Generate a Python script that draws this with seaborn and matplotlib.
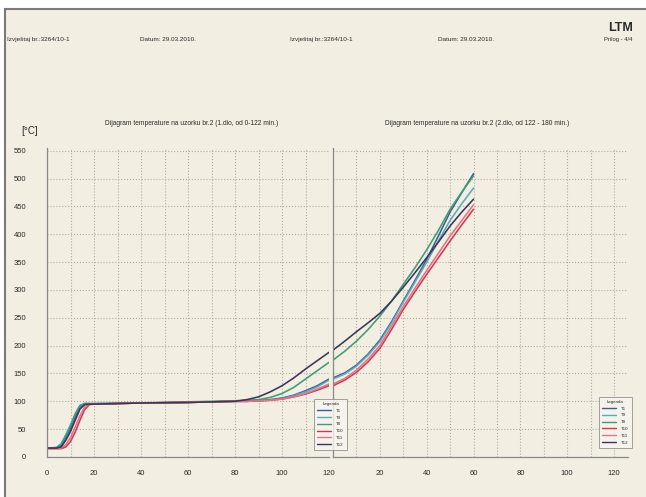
import numpy as np
import pandas as pd
import matplotlib
matplotlib.use("Agg")
import matplotlib.pyplot as plt
from matplotlib.patches import Rectangle
from matplotlib.lines import Line2D
from matplotlib.ticker import MultipleLocator, FixedFormatter, FixedLocator
import seaborn as sns

# sensors / legend entries
sensors = ['T1', 'T9', 'T8', 'T10', 'T11', 'T12']
colors = ['#3d5f8f', '#5aaac0', '#3e9c7a', '#d8364e', '#e5738a', '#3b3558']

# part 1: 0 - 122 min
t_left = [0, 4, 6, 8, 10, 12, 14, 16, 18, 20, 40, 60, 80, 85, 90, 95, 100, 105, 110, 115, 120]
T1_left = [16, 16, 20, 35, 52, 72, 90, 95, 95, 95, 97, 98, 100, 100, 101, 103, 106, 111, 119, 128, 140]
T9_left = [16, 17, 24, 40, 58, 78, 93, 96, 96, 96, 97, 98, 100, 100, 101, 102, 105, 110, 117, 126, 138]
T8_left = [16, 17, 22, 38, 56, 76, 92, 96, 96, 96, 97, 99, 101, 102, 103, 107, 114, 125, 140, 155, 170]
T10_left = [15, 15, 15, 18, 28, 45, 66, 85, 94, 95, 97, 98, 100, 100, 101, 102, 104, 108, 113, 120, 128]
T11_left = [15, 15, 16, 22, 35, 54, 74, 90, 95, 95, 97, 98, 100, 100, 101, 102, 104, 108, 114, 122, 131]
T12_left = [16, 16, 18, 30, 46, 66, 86, 94, 95, 95, 97, 98, 100, 103, 108, 117, 128, 142, 158, 173, 188]

# part 2: 122 - 180 min
t_right = [0, 5, 10, 15, 20, 25, 30, 35, 40, 45, 50, 55, 60]
T1_right = [142, 151, 165, 185, 210, 243, 280, 317, 355, 397, 440, 475, 509]
T9_right = [140, 149, 163, 183, 207, 241, 278, 314, 350, 388, 425, 455, 483]
T8_right = [174, 190, 208, 229, 253, 280, 310, 340, 372, 407, 445, 476, 505]
T10_right = [128, 138, 152, 171, 195, 229, 265, 297, 328, 358, 388, 417, 445]
T11_right = [131, 141, 156, 176, 200, 235, 270, 303, 335, 366, 397, 425, 453]
T12_right = [192, 208, 225, 241, 258, 280, 305, 331, 358, 386, 415, 440, 463]

right_ticklabels = ['', '20', '40', '60', '80', '100', '120']


def to_long(t, series):
    rows = []
    for name, vals in zip(sensors, series):
        for ti, v in zip(t, vals):
            rows.append((name, ti, v))
    return pd.DataFrame(rows, columns=['sensor', 't', 'temp'])


df_left = to_long(t_left, [T1_left, T9_left, T8_left, T10_left, T11_left, T12_left])
df_right = to_long(t_right, [T1_right, T9_right, T8_right, T10_right, T11_right, T12_right])

sns.set_style("white")
plt.rcParams['font.family'] = ['Liberation Sans', 'DejaVu Sans']

cream = '#f2eee1'
ink = '#2a2a2a'
gridc = '#b0aca2'

fig = plt.figure(figsize=(6.46, 4.97), dpi=100)
fig.patch.set_facecolor('white')
fig.patches.append(Rectangle((0.008, -0.01), 1.0, 0.992, transform=fig.transFigure,
                             facecolor=cream, edgecolor='#7a7a7a', lw=1.5, zorder=-5))

ax1 = fig.add_axes([0.0728, 0.0805, 0.4365, 0.6217])
ax2 = fig.add_axes([0.5155, 0.0805, 0.4567, 0.6217])
ax2.set_zorder(1)
ax1.set_zorder(3)

pal = dict(zip(sensors, colors))
sns.lineplot(data=df_left, x='t', y='temp', hue='sensor', palette=pal, ax=ax1,
             linewidth=1.15, legend=False)
sns.lineplot(data=df_right, x='t', y='temp', hue='sensor', palette=pal, ax=ax2,
             linewidth=1.15, legend=False)

ax1.set_xlim(0, 120)
ax2.set_xlim(0, 126)

for ax in (ax1, ax2):
    ax.set_ylim(0, 555)
    ax.patch.set_alpha(0)
    ax.set_xlabel('')
    ax.set_ylabel('')
    ax.xaxis.set_major_locator(MultipleLocator(20))
    ax.xaxis.set_minor_locator(MultipleLocator(10))
    ax.yaxis.set_major_locator(MultipleLocator(50))
    ax.yaxis.set_minor_locator(MultipleLocator(25))
    ax.grid(which='both', axis='x', linestyle=':', color=gridc, lw=0.8)
    ax.grid(which='major', axis='y', linestyle=':', color=gridc, lw=0.8)
    for s in ('top', 'right'):
        ax.spines[s].set_visible(False)
    for s in ('left', 'bottom'):
        ax.spines[s].set_color('#8a8a8a')
        ax.spines[s].set_linewidth(0.9)
    ax.tick_params(axis='x', which='major', direction='inout', length=7, width=0.7,
                   color='#8a8a8a', labelsize=5.5, labelcolor=ink, pad=6)
    ax.tick_params(axis='x', which='minor', direction='inout', length=4, width=0.6,
                   color='#8a8a8a')
    ax.tick_params(axis='y', which='major', direction='out', length=9, width=0.7,
                   color='#8a8a8a', labelsize=5.5, labelcolor=ink, pad=6)
    ax.tick_params(axis='y', which='minor', direction='out', length=4, width=0.6,
                   color='#8a8a8a')

ax2.xaxis.set_major_locator(FixedLocator([0, 20, 40, 60, 80, 100, 120]))
ax2.xaxis.set_major_formatter(FixedFormatter(right_ticklabels))
ax2.tick_params(axis='y', which='both', left=False, labelleft=False)

handles = [Line2D([0], [0], color=c, lw=1.0) for c in colors]
for ax, anchor in ((ax1, (0.94, 0.016)), (ax2, (0.895, 0.023))):
    leg = ax.legend(handles, sensors, title='Legenda', loc='lower left',
                    bbox_to_anchor=anchor, fontsize=3.2, title_fontsize=3.2,
                    frameon=True, fancybox=False, handlelength=3.0,
                    labelspacing=0.6, borderpad=0.7, handletextpad=1.2)
    leg.get_frame().set_edgecolor('#8a8a8a')
    leg.get_frame().set_facecolor('#f7f5ee')
    leg.get_frame().set_linewidth(0.7)
    leg.set_zorder(10)

# header texts
fig.text(0.011, 0.92, 'Izvještaj br.:3264/10-1', fontsize=4.6, color=ink, va='center')
fig.text(0.217, 0.92, 'Datum: 29.03.2010.', fontsize=4.6, color=ink, va='center')
fig.text(0.449, 0.92, 'Izvještaj br.:3264/10-1', fontsize=4.6, color=ink, va='center')
fig.text(0.678, 0.92, 'Datum: 29.03.2010.', fontsize=4.6, color=ink, va='center')
fig.text(0.96, 0.943, 'LTM', fontsize=9, fontweight='bold', color=ink, ha='center', va='center')
fig.text(0.957, 0.92, 'Prilog - 4/4', fontsize=4.2, color=ink, ha='center', va='center')

fig.text(0.296, 0.752, 'Dijagram temperature na uzorku br.2 (1.dio, od 0-122 min.)',
         fontsize=4.8, color=ink, ha='center', va='center')
fig.text(0.739, 0.752, 'Dijagram temperature na uzorku br.2 (2.dio, od 122 - 180 min.)',
         fontsize=4.8, color=ink, ha='center', va='center')
fig.text(0.046, 0.736, '[°C]', fontsize=7, color=ink, ha='center', va='center')

fig.savefig('out.png', dpi=100, facecolor=fig.get_facecolor())
